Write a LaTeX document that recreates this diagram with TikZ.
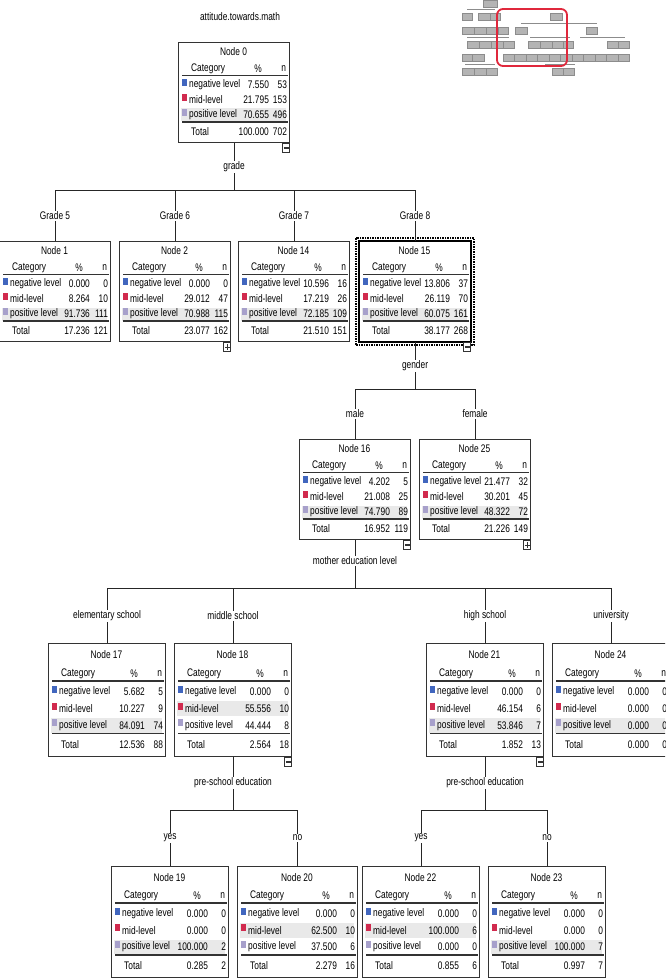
\documentclass[tikz,border=0pt]{standalone}
\usepackage{fontspec}
\setmainfont[FakeStretch=0.76]{Liberation Sans}
\usepackage{tikz}
\usetikzlibrary{calc,positioning}
\definecolor{NegBlue}{HTML}{4166BE}
\definecolor{MidRed}{HTML}{D12A4E}
\definecolor{PosLilac}{HTML}{A7A0CB}
\definecolor{RowGray}{HTML}{E9E9E9}
\definecolor{MapGray}{HTML}{B4B4B4}
\definecolor{MapRed}{HTML}{E0283C}

\begin{document}
\begin{tikzpicture}[x=1pt,y=-1pt,
  every node/.style={font=\fontsize{11}{12}\selectfont,inner sep=1pt},
  frame/.style={draw=black!80,line width=1.1pt,fill=white,inner sep=0pt,anchor=north west},
  rule/.style={line width=1.6pt,black!80},
  branch/.style={black!85,line width=1pt},
  toggle/.style={draw=black!80,line width=0.8pt,fill=white,inner sep=0pt,minimum width=7pt,minimum height=9pt,anchor=north east},
  collapse/.style={toggle,path picture={\draw[line width=1.1pt] ([xshift=1.2pt]path picture bounding box.west) -- ([xshift=-1.2pt]path picture bounding box.east);}},
  expand/.style={toggle,path picture={\draw[line width=1pt] ([xshift=1.2pt]path picture bounding box.west) -- ([xshift=-1.2pt]path picture bounding box.east)
    ([yshift=-1.5pt]path picture bounding box.north) -- ([yshift=1.5pt]path picture bounding box.south);}},
  mapbox/.style={fill=MapGray,draw=black!45,line width=0.4pt}]
  \clip (0,0) rectangle (665,979);
  \useasboundingbox (0,0) rectangle (665,979);

  \foreach \x/\y/\w in {483/0/14,462/13/10,478/13/12,490/13/10,550/13/12,
    462/27/12,474/27/12,486/27/12,498/27/10,515/27/12,586/27/11,
    467/41/12,479/41/12,491/41/12,503/41/11,528/41/12,540/41/12,552/41/11,563/41/10,607/41/11,618/41/11,
    462/54/10,472/54/12,503/54/11.5,514.5/54/11.5,526/54/11.5,537.5/54/11.5,549/54/11.5,560.5/54/11.5,
    572/54/11.5,583.5/54/11.5,595/54/11.5,606.5/54/11.5,618/54/11.5,
    462/68/12,474/68/12,486/68/11,552/68/11,563/68/11}
    \path[mapbox] (\x,\y) rectangle ++(\w,7);
  \draw[black!45,line width=0.4pt] (467,9) -- (495,9) (521,23) -- (597,23) (467,37) -- (509,37)
    (530,37) -- (570,37) (580,37) -- (625,37) (465,64) -- (495,64) (545,64) -- (575,64);
  \draw[MapRed,line width=1.8pt,rounded corners=6pt] (497,9) rectangle (567,66);

  \node (ttl) at (240,17) {attitude.towards.math};

  \foreach \nm/\px/\py/\w/\h/\id/\a/\an/\b/\bn/\c/\cn/\t/\tn/\hl in {
    n0/178/42/111/100/0/7.550/53/21.795/153/70.655/496/100.000/702/3,
    n1/-1/241/111/100/1/0.000/0/8.264/10/91.736/111/17.236/121/3,
    n2/119/241/111/100/2/0.000/0/29.012/47/70.988/115/23.077/162/3,
    n14/238/241/111/100/14/10.596/16/17.219/26/72.185/109/21.510/151/3,
    n15/359/241/111/100/15/13.806/37/26.119/70/60.075/161/38.177/268/3,
    n16/299/439/111/100/16/4.202/5/21.008/25/74.790/89/16.952/119/3,
    n25/419/439/111/100/25/21.477/32/30.201/45/48.322/72/21.226/149/3,
    n17/48/643/117/113/17/5.682/5/10.227/9/84.091/74/12.536/88/3,
    n18/174/643/117/113/18/0.000/0/55.556/10/44.444/8/2.564/18/2,
    n21/426/643/117/113/21/0.000/0/46.154/6/53.846/7/1.852/13/3,
    n24/552/643/117/113/24/0.000/0/0.000/0/0.000/0/0.000/0/3,
    n19/111/866/117/111/19/0.000/0/0.000/0/100.000/2/0.285/2/3,
    n20/237/866/120/111/20/0.000/0/62.500/10/37.500/6/2.279/16/2,
    n22/362/866/117/111/22/0.000/0/100.000/6/0.000/0/0.855/6/2,
    n23/488/866/117/111/23/0.000/0/0.000/0/100.000/7/0.997/7/3}{
    \node[frame,minimum width=\w pt,minimum height=\h pt] (\nm) at (\px,\py) {};
    \fill[RowGray] ($(\nm.north west)+(3,{(0.215+0.15*\hl)*\h})$) rectangle ++(\w-6,{0.13*\h});
    \node (\nm-t) at ($(\nm.north west)+(\w/2,{0.10*\h})$) {Node \id};
    \node[anchor=west] (\nm-c) at ($(\nm.north west)+(12,{0.27*\h})$) {Category};
    \node (\nm-p) at ($(\nm.north east)+(-32,{0.27*\h})$) {\%};
    \node[anchor=east] (\nm-n) at ($(\nm.north east)+(-3,{0.27*\h})$) {n};
    \draw[rule] ($(\nm.north west)+(4,{0.335*\h})$) -- ($(\nm.north east)+(-2,{0.335*\h})$);
    \foreach \k/\lab/\col/\v/\m in {1/negative level/NegBlue/\a/\an,2/mid-level/MidRed/\b/\bn,3/positive level/PosLilac/\c/\cn}{
      \fill[\col] ($(\nm.north west)+(4,{(0.28+0.15*\k)*\h-6})$) rectangle ++(5,7);
      \node[anchor=west] (\nm-l\k) at ($(\nm.north west)+(10,{(0.28+0.15*\k)*\h})$) {\lab};
      \node[anchor=east] (\nm-v\k) at ($(\nm.north east)+(-20,{(0.28+0.15*\k)*\h})$) {\v};
      \node[anchor=east] (\nm-m\k) at ($(\nm.north east)+(-2,{(0.28+0.15*\k)*\h})$) {\m};
    }
    \draw[rule] ($(\nm.north west)+(4,{0.80*\h})$) -- ($(\nm.north east)+(-2,{0.80*\h})$);
    \node[anchor=west] (\nm-tl) at ($(\nm.north west)+(12,{0.90*\h})$) {Total};
    \node[anchor=east] (\nm-tv) at ($(\nm.north east)+(-20,{0.90*\h})$) {\t};
    \node[anchor=east] (\nm-tn) at ($(\nm.north east)+(-2,{0.90*\h})$) {\tn};
  }

  \draw[line width=1.8pt,black] (n15.north west) rectangle (n15.south east);
  \draw[densely dotted,line width=1.5pt] ($(n15.north west)+(-3,-3)$) rectangle ($(n15.south east)+(3,3)$);

  \foreach \nm/\sg in {n0/collapse,n2/expand,n15/collapse,n16/collapse,n25/expand,n18/collapse,n21/collapse}
    \node[\sg] (\nm-x) at (\nm.south east) {};

  % splits
  \node (s0) at (n0.south |- 0,167) {grade};
  \node (s15) at (n15.south |- 0,366) {gender};
  \node (s16) at (n16.south |- 0,561) {mother education level};
  \node (s18) at (n18.south |- 0,783) {pre-school education};
  \node (s21) at (n21.south |- 0,783) {pre-school education};

  \node (g5) at (n1.north |- 0,216) {Grade 5};
  \node (g6) at (n2.north |- 0,216) {Grade 6};
  \node (g7) at (n14.north |- 0,216) {Grade 7};
  \node (g8) at (n15.north |- 0,216) {Grade 8};
  \node (male) at (n16.north |- 0,414) {male};
  \node (female) at (n25.north |- 0,414) {female};
  \node (elem) at (n17.north |- 0,616) {elementary school};
  \node (mids) at (n18.north |- 0,616) {middle school};
  \node (high) at (n21.north |- 0,616) {high school};
  \node (univ) at (n24.north |- 0,616) {university};
  \node (yes1) at (n19.north |- 0,838) {yes};
  \node (no1) at (n20.north |- 0,838) {no};
  \node (yes2) at (n22.north |- 0,838) {yes};
  \node (no2) at (n23.north |- 0,838) {no};

  \draw[branch] (n0) -- (s0);
  \draw[branch] (s0) -- (s0 |- 0,190);
  \draw[branch] (g5 |- 0,190) -- (g8 |- 0,190);
  \foreach \e/\k in {g5/n1,g6/n2,g7/n14,g8/n15}
    \draw[branch] (\e |- 0,190) -- (\e) (\e) -- (\k);

  \draw[branch] (n15) -- (s15);
  \draw[branch] (s15) -- (s15 |- 0,389);
  \draw[branch] (male |- 0,389) -- (female |- 0,389);
  \foreach \e/\k in {male/n16,female/n25}
    \draw[branch] (\e |- 0,389) -- (\e) (\e) -- (\k);

  \draw[branch] (n16) -- (s16);
  \draw[branch] (s16) -- (s16 |- 0,588);
  \draw[branch] (elem |- 0,588) -- (univ |- 0,588);
  \foreach \e/\k in {elem/n17,mids/n18,high/n21,univ/n24}
    \draw[branch] (\e |- 0,588) -- (\e) (\e) -- (\k);

  \draw[branch] (n18) -- (s18);
  \draw[branch] (s18) -- (s18 |- 0,810);
  \draw[branch] (yes1 |- 0,810) -- (no1 |- 0,810);
  \foreach \e/\k in {yes1/n19,no1/n20}
    \draw[branch] (\e |- 0,810) -- (\e) (\e) -- (\k);

  \draw[branch] (n21) -- (s21);
  \draw[branch] (s21) -- (s21 |- 0,810);
  \draw[branch] (yes2 |- 0,810) -- (no2 |- 0,810);
  \foreach \e/\k in {yes2/n22,no2/n23}
    \draw[branch] (\e |- 0,810) -- (\e) (\e) -- (\k);
\end{tikzpicture}
\end{document}
